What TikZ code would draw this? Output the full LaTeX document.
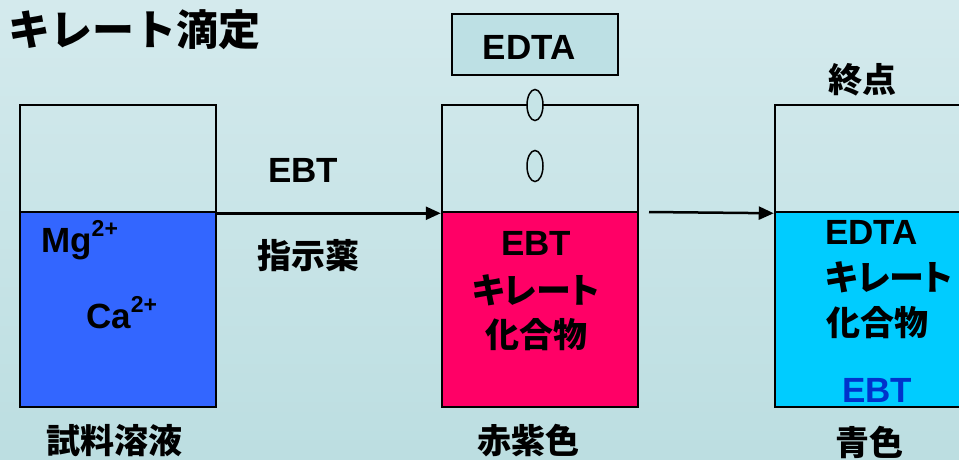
\documentclass[tikz,border=0pt]{standalone}
\usepackage{fontspec}
\setmainfont{Liberation Sans}
\newfontfamily\jp{Noto Sans CJK JP}
\newfontfamily\jpp[RawFeature=+palt]{Noto Sans CJK JP}
\usetikzlibrary{arrows.meta,shapes.geometric}
\definecolor{bgtop}{HTML}{D4EAED}
\definecolor{bgbot}{HTML}{BCDEE1}
\definecolor{samplec}{HTML}{3366FF}
\definecolor{redc}{HTML}{FF0066}
\definecolor{bluec}{HTML}{00CCFF}
\definecolor{ebtblue}{HTML}{0033CC}
\definecolor{edtabox}{HTML}{BDE0E4}
\definecolor{dropc}{HTML}{C6E4E7}
\begin{document}
\begin{tikzpicture}[x=1pt,y=-1pt,
  lbl/.style={font=\fontsize{35}{38}\selectfont\bfseries, inner sep=0pt},
  jlbl/.style={font=\fontsize{34}{38}\selectfont\jp\bfseries, inner sep=0pt},
  klbl/.style={font=\fontsize{35}{38}\selectfont\jpp\bfseries, inner sep=0pt},
  upper/.style={draw, line width=2.5pt, inner sep=0pt, minimum width=196pt, minimum height=107pt},
  lower/.style={draw, line width=2.5pt, inner sep=0pt, minimum width=196pt, minimum height=195pt},
  drop/.style={draw, ellipse, line width=1.5pt, fill=dropc, inner sep=0pt, minimum width=16pt, minimum height=31pt},
  arr/.style={line width=2.5pt, -{Triangle[length=15pt,width=13pt]}},
]
\clip (0,0) rectangle (959,459);
\shade[top color=bgtop, bottom color=bgbot] (0,0) rectangle (959,459);

% title
\node[font=\fontsize{42}{44}\selectfont\jp\bfseries, inner sep=0pt, anchor=west] (title) at (8,30) {キレート滴定};

% beaker 1
\node[upper] (u1) at (118,158.5) {};
\node[lower, fill=samplec] (l1) at (118,309.5) {};
\node[lbl, anchor=base west] (mg) at (41,252) {Mg\raisebox{0.45em}{\fontsize{23}{23}\selectfont 2+}};
\node[lbl, anchor=base west] (ca) at (86,328) {Ca\raisebox{0.45em}{\fontsize{23}{23}\selectfont 2+}};
\node[jlbl] (t1) at (114,441) {試料溶液};

% beaker 2
\node[upper] (u2) at (540,158.5) {};
\node[lower, fill=redc] (l2) at (540,309.5) {};
\node[lbl] (ebt2) at (536,243) {EBT};
\node[klbl] (k2) at (536,290) {キレート};
\node[jlbl] (c2) at (536,335) {化合物};
\node[jlbl] (t2) at (528,441) {赤紫色};

% EDTA burette
\node[draw, line width=2pt, fill=edtabox, minimum width=166pt, minimum height=61pt, inner sep=0pt] (edta) at (535,44.5) {};
\node[lbl] (edtat) at (529,47) {EDTA};
\node[drop] (d1) at (535,105) {};
\node[drop] (d2) at (535,166) {};

% beaker 3
\node[upper] (u3) at (873,158.5) {};
\node[lower, fill=bluec] (l3) at (873,309.5) {};
\node[lbl, anchor=west] (edta3) at (825,232) {EDTA};
\node[klbl, anchor=west] (k3) at (825,277) {キレート};
\node[jlbl, anchor=west] (c3) at (826,323) {化合物};
\node[lbl, text=ebtblue] (ebt3) at (877,390) {EBT};
\node[jlbl] (end) at (862,80) {終点};
\node[jlbl] (t3) at (869,442) {青色};

% arrows
\draw[arr] (u1.south east) -- (u2.south west);
\coordinate (a2s) at (649,212);
\draw[arr] (a2s) -- (u3.south west);
\node[lbl] (ebtl) at (303,170) {EBT};
\node[jlbl] (ind) at (308,256) {指示薬};
\end{tikzpicture}
\end{document}
